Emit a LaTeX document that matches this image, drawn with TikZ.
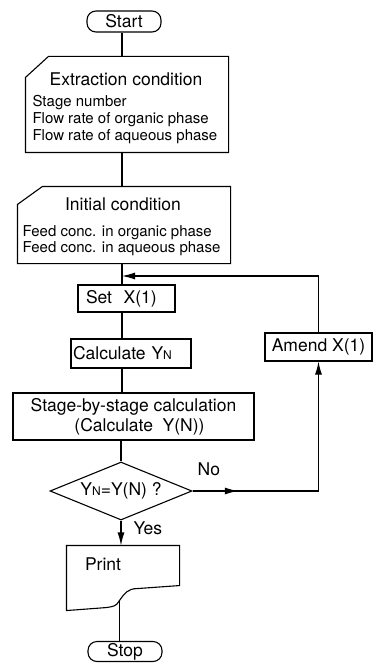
\documentclass[tikz,border=0pt]{standalone}
\usepackage{fontspec}
\setmainfont{TeX Gyre Heros}
\usepackage{tikz}
\usetikzlibrary{arrows.meta, positioning, shapes.geometric, calc}

\begin{document}
\begin{tikzpicture}[x=1pt, y=-1pt, line width=1.1pt,
  txt/.style={font=\fontsize{17.5}{20}\selectfont},
  sm/.style={font=\fontsize{15}{17}\selectfont, align=left, inner sep=0pt},
  term/.style={draw, rounded corners=9pt, minimum width=74pt, minimum height=21pt, inner sep=0pt, txt},
  proc/.style={draw, minimum height=27pt, inner sep=0pt, txt},
  frame/.style={inner sep=0pt},
  decide/.style={draw, diamond, aspect=2.45, minimum width=142pt, minimum height=58pt, inner sep=0pt, txt},
  arr/.style={-{Latex[length=13pt,width=7pt]}},
]
  \useasboundingbox (0,0) rectangle (374,663);
  \coordinate (sp) at (122,0);

  \node[term] (start) at (124,21.5) {Start};

  % extraction condition (manual input)
  \node[frame, minimum width=202pt, minimum height=95pt] (ext) at (127,104.5) {};
  \node[txt] (ext title) at (126,79) {Extraction condition};
  \node[sm, anchor=north west] (ext list) at (32,95) {Stage number\\Flow rate of organic phase\\Flow rate of aqueous phase};
  \draw (ext.south west) -- ([yshift=-21pt]ext.north west) -- ([xshift=23pt]ext.north west) -- (ext.north east) -- (ext.south east) -- cycle;

  % initial condition (manual input)
  \node[frame, minimum width=212pt, minimum height=76pt] (ini) at (124,225) {};
  \node[txt] (ini title) at (123,204) {Initial condition};
  \node[sm, anchor=north west, font=\fontsize{15}{16.5}\selectfont] (ini list) at (22,225) {Feed conc. in organic phase\\Feed conc. in aqueous phase};
  \draw (ini.south west) -- ([yshift=-18pt]ini.north west) -- ([xshift=25pt]ini.north west) -- (ini.north east) -- (ini.south east) -- cycle;

  \node[proc, minimum width=97pt, text width=81pt, align=left] (set) at (126.5,298.5) {Set\ \ X(1)};
  \node[proc, minimum width=120pt, minimum height=29pt, text width=116pt, align=left] (calc) at (131,353.5) {Calculate Y{\fontsize{12}{12}\selectfont N}};
  \node[proc, minimum width=241pt, minimum height=47pt, align=center] (stage) at (133.5,416.5) {Stage-by-stage calculation\\\hspace*{12pt}(Calculate\ \ Y(N))};
  \node[decide] (test) at (121,491) {Y{\fontsize{12}{12}\selectfont N}=Y(N) ?};
  \node[proc, minimum width=107pt, minimum height=28pt] (amend) at (318.5,347) {Amend X(1)};

  % print (document)
  \node[frame, minimum width=112pt, minimum height=64pt] (print) at (123,578) {};
  \node[txt] (print text) at (103,564) {Print};
  \draw (print.north west) -- (print.north east) -- ($(print.south east)+(0,-25)$) -- ($(print.south east)+(-42,-22)$)
    .. controls +(-10,0) and +(5,-7) .. ($(print.south west)+(53,-10)$) coordinate (print wave)
    .. controls +(-3,6) and +(6,-1) .. ($(print.south west)+(40,-3)$) -- (print.south west) -- cycle;

  \node[term, minimum height=20pt] (stop) at (125,651.5) {Stop};

  % main line
  \draw (start.south -| sp) -- (ext.north -| sp);
  \draw (ext.south -| sp) -- (ini.north -| sp);
  \draw (ini.south -| sp) -- (set.north -| sp);
  \draw (set.south -| sp) -- (calc.north -| sp);
  \draw (calc.south -| sp) -- (stage.north -| sp);
  \draw (stage.south -| test) -- (test.north);
  \draw[arr] (test.south) -- node[pos=0.3, anchor=west, xshift=12pt, inner sep=0pt, txt] {Yes} (test.south |- print.north);
  \draw (print wave) -- (print wave |- stop.north);

  % loop back
  \coordinate (join) at (122,276);
  \coordinate (turn) at (amend.south |- test.east);
  \draw (test.east) -- node[pos=0.13, anchor=south, yshift=15pt, inner sep=0pt, txt] {No} (turn);
  \draw[arr] (test.east) -- ($(test.east)!0.36!(turn)$);
  \draw[arr] (turn) -- (amend.south);
  \draw[arr] (amend.north) |- (join);
\end{tikzpicture}
\end{document}
